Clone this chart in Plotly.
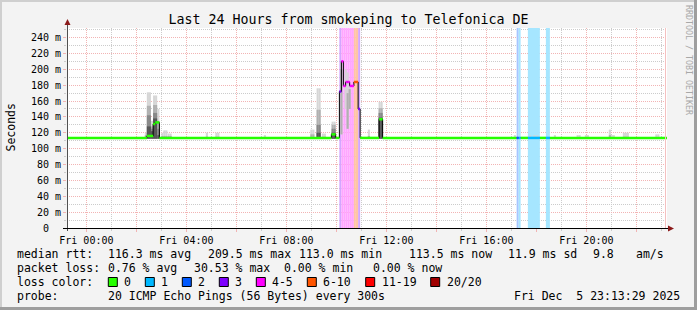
import plotly.graph_objects as go

# ---------------- data ----------------
TITLE = "Last 24 Hours from smokeping to Telefonica DE"
Y_TITLE = "Seconds"
WATERMARK = "RRDTOOL / TOBI OETIKER"

# time axis in hours relative to Fri 00:00 (Thu 23:13:29 .. Fri 23:13:29)
x_range_hours = [-0.775, 23.225]
y_range = [0, 252]

x_tick_hours = [0, 2, 4, 6, 8, 10, 12, 14, 16, 18, 20, 22]
x_tick_labels = ["Fri 00:00", "", "Fri 04:00", "", "Fri 08:00", "", "Fri 12:00", "",
                 "Fri 16:00", "", "Fri 20:00", ""]
y_tick_vals = [0, 20, 40, 60, 80, 100, 120, 140, 160, 180, 200, 220, 240]
y_tick_labels = ["0\u00a0\u00a0", "20 m", "40 m", "60 m", "80 m", "100 m", "120 m",
                 "140 m", "160 m", "180 m", "200 m", "220 m", "240 m"]

# loss classes
loss_labels = ["0", "1", "2", "3", "4-5", "6-10", "11-19", "20/20"]
loss_colors = ["#26ff00", "#00b8ff", "#0059ff", "#7e00ff", "#ff00ff", "#ff5500", "#ff0000", "#a10000"]

# median rtt (ms) as segments: start hour, value, loss class
med_start = [-0.775, 2.42, 2.67, 2.75, 2.92, 9.80, 9.97,
             10.12, 10.20, 10.28, 10.37, 10.45, 10.53, 10.62, 10.70, 10.78, 10.87, 10.95,
             11.71, 11.85, 17.21, 17.29, 17.37, 17.66, 18.14, 18.38, 18.54]
med_value = [113.5, 116, 131, 133, 113.5, 118, 113.5,
             172, 210, 179, 184, 184, 179, 179, 184, 184, 150, 113.5,
             137, 113.5, 113.5, 113.5, 113.5, 113.5, 113.5, 113.5, 113.5]
med_loss = [0, 0, 0, 0, 0, 0, 0,
            3, 4, 4, 4, 4, 4, 4, 5, 5, 3, 0,
            0, 0, 2, 1, 0, 1, 0, 1, 0]
med_end = 23.225

# smoke (ping distribution) per 5-minute sample: centre hour, bottom, shade tops (ms)
smoke_t = [2.38, 2.46, 2.54, 2.63, 2.71, 2.79, 2.88, 3.04, 3.12, 3.20, 3.29, 3.37,
           4.82, 5.20, 5.28, 7.14, 9.00, 9.08, 9.25, 9.33, 9.46, 9.54, 9.85, 9.93,
           10.20, 10.37, 10.45, 10.53,
           11.30, 11.73, 11.81, 17.14, 17.75, 17.92, 18.04, 18.74, 19.65, 19.73, 19.98, 20.06,
           20.94, 21.02, 21.10, 21.50, 21.58, 21.66, 22.80, 22.88]
smoke_lo = [112.5] * 24 + [118, 150, 125, 150] + [112.5] * 20
smoke_hi = [120, 171, 171, 135, 167, 167, 150, 120, 123, 123, 119, 119,
            120, 120, 120, 117, 124, 124, 176, 176, 119, 119, 134, 134,
            208, 200, 196, 182,
            124, 159, 159, 117, 117, 117, 117, 117, 117, 117, 117, 117,
            124, 117, 117, 120, 120, 120, 118, 118]
smoke_s2 = [117, 154, 154, 128, 155, 155, 135, 116, 116, 116, 116, 116,
            115, 115, 115, 114, 118, 118, 149, 149, 115, 115, 130, 130,
            200, 150, 170, 175,
            116, 151, 151, 114, 114, 114, 114, 114, 114, 114, 114, 114,
            117, 114, 114, 115, 115, 115, 114, 114]
smoke_s3 = [115, 142, 142, 125, 145, 145, 125, 114, 114, 114, 114, 114,
            113, 113, 113, 113, 114, 114, 130, 130, 113, 113, 125, 125,
            118, 150, 125, 150,
            114, 145, 145, 113, 113, 113, 113, 113, 113, 113, 113, 113,
            114, 113, 113, 113, 113, 113, 113, 113]
smoke_s4 = [114, 128, 128, 122, 138, 138, 117, 113, 113, 113, 113, 113,
            113, 113, 113, 113, 113, 113, 120, 120, 113, 113, 120, 120,
            118, 150, 125, 150,
            113, 139, 139, 113, 113, 113, 113, 113, 113, 113, 113, 113,
            113, 113, 113, 113, 113, 113, 113, 113]
SAMPLE_H = 5 / 60.0

# legend text
rtt_label = "median rtt:"
rtt_items = ["116.3 ms avg", "209.5 ms max", "113.0 ms min", "113.5 ms now", "11.9 ms sd", "9.8", "am/s"]
pl_label = "packet loss:"
pl_items = ["0.76 % avg", "30.53 % max", "0.00 % min", "0.00 % now"]
lc_label = "loss color:"
probe_label = "probe:"
probe_text = "20 ICMP Echo Pings (56 Bytes) every 300s"
date_text = "Fri Dec\u00a0\u00a05 23:13:29 2025"

# ---------------- layout geometry (pixels) ----------------
W, H = 697, 310
PL, PR, PT, PB = 67, 667, 28, 228
FONT = "DejaVu Sans Mono"


def px(x):
    return (x - PL) / (PR - PL)


def py(y):
    return (PB - y) / (PB - PT)


def lighten(hexc, a=0.35):
    r, g, b = int(hexc[1:3], 16), int(hexc[3:5], 16), int(hexc[5:7], 16)
    f = lambda c: round(255 * (1 - a) + c * a)
    return "#%02x%02x%02x" % (f(r), f(g), f(b))


fig = go.Figure()

# loss background bands
seg_ends = med_start[1:] + [med_end]
band_x, band_w, band_c = [], [], []
for s, e, l in zip(med_start, seg_ends, med_loss):
    if l > 0:
        band_x.append((s + e) / 2)
        band_w.append(e - s)
        band_c.append(lighten(loss_colors[l]))
fig.add_trace(go.Bar(x=band_x, y=[y_range[1]] * len(band_x), base=0, width=band_w,
                     marker=dict(color=band_c, line=dict(width=0)), hoverinfo="skip"))

# smoke shades
for tops, col in [(smoke_hi, "#d6d6d6"), (smoke_s2, "#b0b0b0"), (smoke_s3, "#888888"), (smoke_s4, "#555555")]:
    fig.add_trace(go.Bar(x=smoke_t, y=[t - b for t, b in zip(tops, smoke_lo)], base=smoke_lo,
                         width=SAMPLE_H, marker=dict(color=col, line=dict(width=0)), hoverinfo="skip"))

# median: black connecting step line
lx, ly = [], []
for s, e, v in zip(med_start, seg_ends, med_value):
    lx += [s, e]
    ly += [v, v]
fig.add_trace(go.Scatter(x=lx, y=ly, mode="lines", line=dict(color="black", width=1), hoverinfo="skip"))

# median coloured by loss
for c in sorted(set(med_loss)):
    cx, cy = [], []
    for s, e, v, l in zip(med_start, seg_ends, med_value, med_loss):
        if l == c:
            cx += [s, e, None]
            cy += [v, v, None]
    fig.add_trace(go.Scatter(x=cx, y=cy, mode="lines", line=dict(color=loss_colors[c], width=2.5),
                             hoverinfo="skip"))

RED_GRID = "#f2b4b4"
GRAY_GRID = "#cccccc"

fig.update_layout(
    width=W, height=H,
    margin=dict(l=PL, r=W - PR, t=PT, b=H - PB),
    paper_bgcolor="#f3f3f3", plot_bgcolor="white",
    barmode="overlay", showlegend=False,
    font=dict(family=FONT, color="black", size=10),
    title=dict(text=TITLE, x=0.5, xref="container", xanchor="center",
               y=1 - 19 / H, yref="container", yanchor="middle",
               font=dict(family=FONT, size=13.3, color="black")),
    xaxis=dict(range=x_range_hours, tickmode="array", tickvals=x_tick_hours, ticktext=x_tick_labels,
               showgrid=True, gridcolor=RED_GRID, griddash="1px,1px", gridwidth=1,
               ticks="outside", ticklen=3, tickcolor=RED_GRID, showline=False, zeroline=False,
               tickfont=dict(size=10, family=FONT),
               minor=dict(tickmode="linear", tick0=0, dtick=1, showgrid=True, gridcolor=GRAY_GRID,
                          griddash="1px,1px", ticks="outside", ticklen=2, tickcolor=GRAY_GRID)),
    yaxis=dict(range=y_range, tickmode="array", tickvals=y_tick_vals, ticktext=y_tick_labels,
               showgrid=True, gridcolor=RED_GRID, griddash="1px,1px", gridwidth=1,
               ticks="outside", ticklen=3, tickcolor=RED_GRID, showline=False, zeroline=False,
               tickfont=dict(size=10, family=FONT),
               minor=dict(tickmode="linear", tick0=0, dtick=10, showgrid=True, gridcolor=GRAY_GRID,
                          griddash="1px,1px", ticks="outside", ticklen=2, tickcolor=GRAY_GRID)),
)

shapes = []
# frame of the image
shapes.append(dict(type="rect", xref="paper", yref="paper", x0=px(0), x1=px(W), y0=py(2), y1=py(0),
                   line=dict(width=0), fillcolor="#cfcfcf", layer="above"))
shapes.append(dict(type="rect", xref="paper", yref="paper", x0=px(0), x1=px(2), y0=py(H), y1=py(0),
                   line=dict(width=0), fillcolor="#cfcfcf", layer="above"))
shapes.append(dict(type="rect", xref="paper", yref="paper", x0=px(0), x1=px(W), y0=py(H), y1=py(H - 3),
                   line=dict(width=0), fillcolor="#9e9e9e", layer="above"))
shapes.append(dict(type="rect", xref="paper", yref="paper", x0=px(W - 3), x1=px(W), y0=py(H), y1=py(0),
                   line=dict(width=0), fillcolor="#9e9e9e", layer="above"))
# right edge rule
shapes.append(dict(type="line", xref="paper", yref="paper", x0=px(665.5), x1=px(665.5), y0=py(PB), y1=py(PT),
                   line=dict(color="#f4c0c0", width=1)))
# axes
shapes.append(dict(type="line", xref="paper", yref="paper", x0=px(67.5), x1=px(67.5), y0=py(231), y1=py(24),
                   line=dict(color="#505050", width=1)))
shapes.append(dict(type="line", xref="paper", yref="paper", x0=px(63), x1=px(669), y0=py(228.5), y1=py(228.5),
                   line=dict(color="black", width=1)))
ARROW = "#8b1a1a"
shapes.append(dict(type="path", xref="paper", yref="paper",
                   path="M %f %f L %f %f L %f %f Z" % (px(64.5), py(25), px(70.5), py(25), px(67.5), py(19)),
                   fillcolor=ARROW, line=dict(color=ARROW, width=0)))
shapes.append(dict(type="path", xref="paper", yref="paper",
                   path="M %f %f L %f %f L %f %f Z" % (px(668), py(225.5), px(668), py(231.5), px(674), py(228.5)),
                   fillcolor=ARROW, line=dict(color=ARROW, width=0)))

# legend colour boxes
box_x = [108.3, 145.3, 182.3, 219.3, 256.3, 307.3, 365.7, 430.7]
for bx, col in zip(box_x, loss_colors):
    shapes.append(dict(type="rect", xref="paper", yref="paper", x0=px(bx), x1=px(bx + 9),
                       y0=py(286.5), y1=py(277.5), fillcolor=col, line=dict(color="black", width=1)))
fig.update_layout(shapes=shapes)

ann = []
LF = 11.5


def txt(x, y, s, size=LF, color="black", anchor="left", angle=0):
    ann.append(dict(x=px(x), y=py(y), xref="paper", yref="paper", text=s, showarrow=False,
                    xanchor=anchor, yanchor="middle", textangle=angle,
                    font=dict(family=FONT, size=size, color=color), borderpad=0))


txt(10.5, 128, Y_TITLE, size=11.5, anchor="center", angle=-90)
txt(689, 60, WATERMARK, size=8.3, color="#a8a8a8", anchor="center", angle=90)

txt(16, 254.3, rtt_label)
for xx, s in zip([107.3, 207.3, 298.3, 407.7, 506.7, 592.3, 635], rtt_items):
    txt(xx, 254.3, s)
txt(16, 268.3, pl_label)
for xx, s in zip([107.3, 192.7, 283.3, 372.3], pl_items):
    txt(xx, 268.3, s)
txt(16, 282.3, lc_label)
for bx, s in zip(box_x, loss_labels):
    txt(bx + 15, 282.3, s)
txt(16, 296, probe_label)
txt(107.3, 296, probe_text)
txt(513.3, 296, date_text)

fig.update_layout(annotations=ann)
fig.write_html("out.html")
